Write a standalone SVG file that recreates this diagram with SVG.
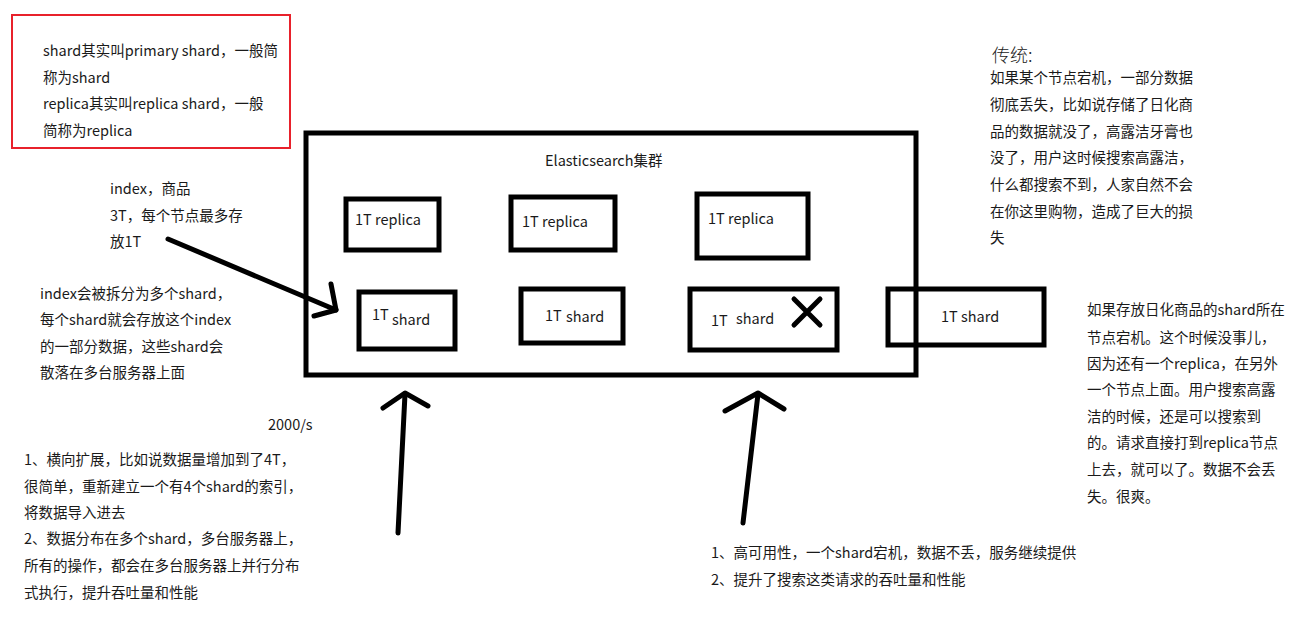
<svg xmlns="http://www.w3.org/2000/svg" width="1291" height="623" viewBox="0 0 1291 623">
<style>
text{font-family:"Noto Sans CJK SC","Noto Sans",sans-serif;font-size:14.5px;fill:#1a1a1a}
.box{fill:none;stroke:#000;stroke-width:5}
.note{fill:none;stroke:#e8212b;stroke-width:2}
.pen{fill:none;stroke:#000;stroke-width:5;stroke-linecap:round;stroke-linejoin:round}
.big{font-size:18px;font-weight:300}
</style>
<rect width="1291" height="623" fill="#fff"/>
<g id="note-top-left">
<rect class="note" x="12" y="15" width="278" height="133"/>
<text x="43" y="56">shard其实叫primary shard，一般简</text>
<text x="43" y="83">称为shard</text>
<text x="43" y="109">replica其实叫replica shard，一般</text>
<text x="43" y="136">简称为replica</text>
</g>
<g id="cluster">
<rect class="box" x="306" y="133" width="610" height="242"/>
<text x="545" y="166">Elasticsearch集群</text>
</g>
<g id="replica1"><rect class="box" x="346" y="199" width="93" height="51"/><text x="355" y="225">1T replica</text></g>
<g id="replica2"><rect class="box" x="511" y="197" width="104" height="53"/><text x="522" y="227">1T replica</text></g>
<g id="replica3"><rect class="box" x="697" y="194" width="111" height="64"/><text x="708" y="224">1T replica</text></g>
<g id="shard1"><rect class="box" x="359" y="292" width="96" height="57"/><text x="372" y="320">1T</text><text x="392" y="325">shard</text></g>
<g id="shard2"><rect class="box" x="521" y="289" width="102" height="54"/><text x="545" y="321">1T</text><text x="566" y="322">shard</text></g>
<g id="shard3"><rect class="box" x="690" y="289" width="147" height="61"/><text x="711" y="326">1T</text><text x="736" y="324">shard</text>
<path class="pen" d="M794 299L820 325M820 299L794 325" stroke-width="6"/></g>
<g id="shard4"><rect class="box" x="888" y="289" width="156" height="56"/><text x="941" y="322">1T shard</text></g>
<g id="index-label">
<text x="110" y="194">index，商品</text>
<text x="110" y="221">3T，每个节点最多存</text>
<text x="110" y="247">放1T</text>
</g>
<g id="index-split-note">
<text x="40" y="299">index会被拆分为多个shard，</text>
<text x="40" y="325">每个shard就会存放这个index</text>
<text x="40" y="352">的一部分数据，这些shard会</text>
<text x="40" y="378">散落在多台服务器上面</text>
</g>
<g id="traditional-note">
<text class="big" x="992" y="62">传统:</text>
<text x="990" y="83">如果某个节点宕机，一部分数据</text>
<text x="990" y="110">彻底丢失，比如说存储了日化商</text>
<text x="990" y="137">品的数据就没了，高露洁牙膏也</text>
<text x="990" y="163">没了，用户这时候搜索高露洁，</text>
<text x="990" y="190">什么都搜索不到，人家自然不会</text>
<text x="990" y="217">在你这里购物，造成了巨大的损</text>
<text x="990" y="243">失</text>
</g>
<g id="replica-note">
<text x="1087" y="315">如果存放日化商品的shard所在</text>
<text x="1087" y="343">节点宕机。这个时候没事儿，</text>
<text x="1087" y="369">因为还有一个replica，在另外</text>
<text x="1087" y="395">一个节点上面。用户搜索高露</text>
<text x="1087" y="422">洁的时候，还是可以搜索到</text>
<text x="1087" y="448">的。请求直接打到replica节点</text>
<text x="1087" y="475">上去，就可以了。数据不会丢</text>
<text x="1087" y="502">失。很爽。</text>
</g>
<g id="scale-note">
<text x="268" y="430">2000/s</text>
<text x="24" y="465">1、横向扩展，比如说数据量增加到了4T，</text>
<text x="24" y="492">很简单，重新建立一个有4个shard的索引，</text>
<text x="24" y="518">将数据导入进去</text>
<text x="24" y="544">2、数据分布在多个shard，多台服务器上，</text>
<text x="24" y="571">所有的操作，都会在多台服务器上并行分布</text>
<text x="24" y="598">式执行，提升吞吐量和性能</text>
</g>
<g id="ha-note">
<text x="711" y="558">1、高可用性，一个shard宕机，数据不丢，服务继续提供</text>
<text x="711" y="585">2、提升了搜索这类请求的吞吐量和性能</text>
</g>
<g id="connectors">
<path class="pen" d="M168 239L336 310"/>
<path class="pen" d="M331 284L336 310L314 316"/>
<path class="pen" d="M398 533L405 394"/>
<path class="pen" d="M383 408L405 393L428 406"/>
<path class="pen" d="M743 523L758 394"/>
<path class="pen" d="M725 411L758 393L784 409"/>
</g>
</svg>
